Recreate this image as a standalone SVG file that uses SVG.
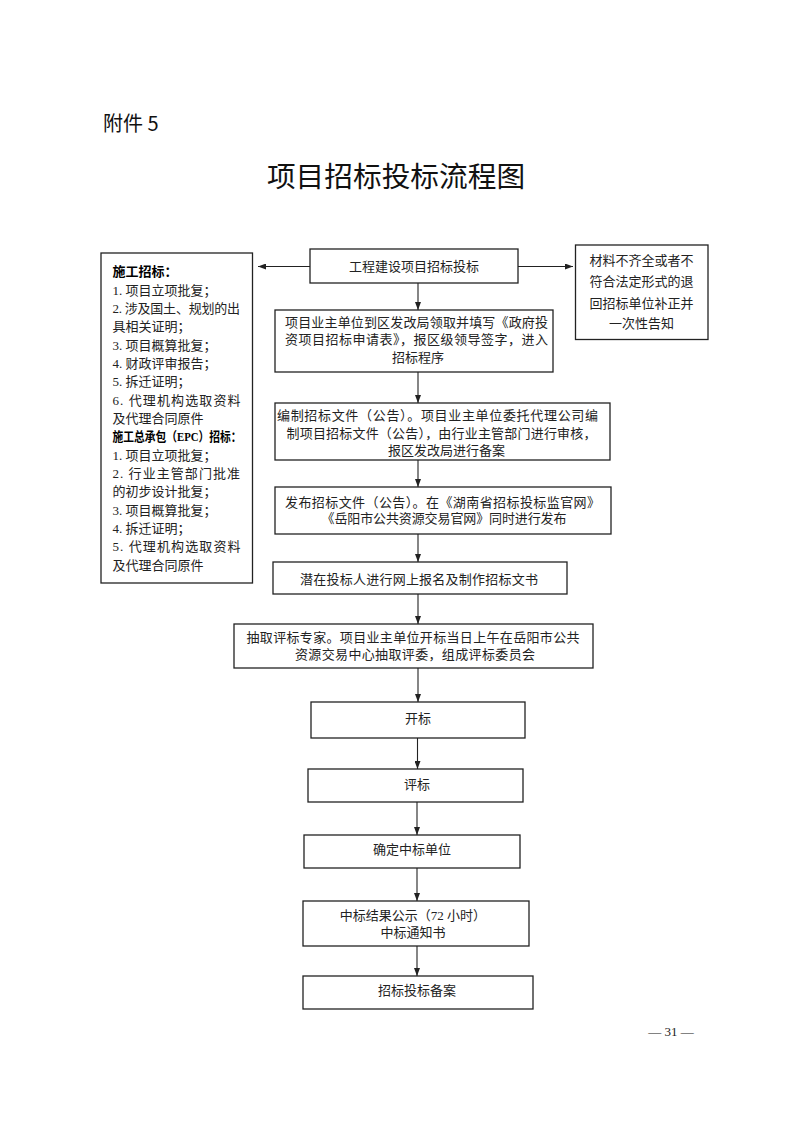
<svg xmlns="http://www.w3.org/2000/svg" width="793" height="1122" viewBox="0 0 793 1122">
<style>
.box{fill:#fff;stroke:#222;stroke-width:1.3}
.t{font-family:"Liberation Serif","Noto Sans CJK SC",serif;font-size:13px;fill:#222;dominant-baseline:central}
.c{text-anchor:middle}
.b{font-weight:bold;fill:#000}
.h{font-family:"Noto Sans CJK SC","Liberation Sans",sans-serif;fill:#111;dominant-baseline:central}
.ln{fill:none;stroke:#222;stroke-width:1.1;marker-end:url(#ah)}
</style>
<defs>
<marker id="ah" markerUnits="userSpaceOnUse" markerWidth="8" markerHeight="6" refX="8" refY="3" orient="auto">
<path d="M0,0 L8,3 L0,6 z" fill="#222"/>
</marker>
</defs>
<rect width="793" height="1122" fill="#fff"/>

<g id="header">
<text class="h" x="103" y="122" font-size="20">附件 5</text>
<text class="h" x="396" y="174.5" font-size="28.7" text-anchor="middle">项目招标投标流程图</text>
</g>

<g id="connectors">
<path class="ln" d="M310,266.5 H258"/>
<path class="ln" d="M518,266.5 H573"/>
<path class="ln" d="M418,283 V310"/>
<path class="ln" d="M418,372 V403"/>
<path class="ln" d="M418,460 V487"/>
<path class="ln" d="M418,534 V562"/>
<path class="ln" d="M418,594 V624"/>
<path class="ln" d="M418,668 V702"/>
<path class="ln" d="M417.5,738 V769"/>
<path class="ln" d="M417,802 V835"/>
<path class="ln" d="M417,868 V901"/>
<path class="ln" d="M417,946 V976"/>
</g>

<g id="n-requirements">
<rect class="box" x="101" y="253" width="151.5" height="330"/>
<text class="t b" x="112.5" y="271.7">施工招标：</text>
<text class="t" x="112.5" y="290">1. 项目立项批复；</text>
<text class="t" x="112.5" y="308.3" textLength="127.5" lengthAdjust="spacing">2. 涉及国土、规划的出</text>
<text class="t" x="112.5" y="326.7">具相关证明；</text>
<text class="t" x="112.5" y="345">3. 项目概算批复；</text>
<text class="t" x="112.5" y="363.3">4. 财政评审报告；</text>
<text class="t" x="112.5" y="381.7">5. 拆迁证明；</text>
<text class="t" x="112.5" y="400" textLength="128" lengthAdjust="spacing">6. 代理机构选取资料</text>
<text class="t" x="112.5" y="418.3">及代理合同原件</text>
<text class="t b" x="112.5" y="436.7" textLength="129" lengthAdjust="spacingAndGlyphs">施工总承包（EPC）招标：</text>
<text class="t" x="112.5" y="455">1. 项目立项批复；</text>
<text class="t" x="112.5" y="473.3" textLength="127.5" lengthAdjust="spacing">2. 行业主管部门批准</text>
<text class="t" x="112.5" y="491.7">的初步设计批复；</text>
<text class="t" x="112.5" y="510">3. 项目概算批复；</text>
<text class="t" x="112.5" y="528.3">4. 拆迁证明；</text>
<text class="t" x="112.5" y="546.7" textLength="128" lengthAdjust="spacing">5. 代理机构选取资料</text>
<text class="t" x="112.5" y="565">及代理合同原件</text>
</g>

<g id="n-start">
<rect class="box" x="310" y="249" width="208" height="34"/>
<text class="t c" x="414" y="266.5">工程建设项目招标投标</text>
</g>

<g id="n-return">
<rect class="box" x="575.5" y="245" width="132.5" height="94.5"/>
<text class="t c" x="641.5" y="260">材料不齐全或者不</text>
<text class="t c" x="641.5" y="281.7">符合法定形式的退</text>
<text class="t c" x="641.5" y="303">回招标单位补正并</text>
<text class="t c" x="641.5" y="323.3">一次性告知</text>
</g>

<g id="n-apply">
<rect class="box" x="275" y="310" width="278" height="62"/>
<text class="t" x="285" y="322" textLength="263" lengthAdjust="spacing">项目业主单位到区发改局领取并填写《政府投</text>
<text class="t" x="285" y="339.5" textLength="263" lengthAdjust="spacing">资项目招标申请表》，报区级领导签字，进入</text>
<text class="t c" x="418" y="357">招标程序</text>
</g>

<g id="n-compile">
<rect class="box" x="275" y="403" width="335" height="57"/>
<text class="t" x="277" y="415.5" textLength="321" lengthAdjust="spacing">编制招标文件（公告）。项目业主单位委托代理公司编</text>
<text class="t" x="286.5" y="433" textLength="310" lengthAdjust="spacing">制项目招标文件（公告），由行业主管部门进行审核，</text>
<text class="t c" x="446.5" y="450">报区发改局进行备案</text>
</g>

<g id="n-publish">
<rect class="box" x="275" y="487" width="336" height="47"/>
<text class="t" x="285" y="502" textLength="315" lengthAdjust="spacing">发布招标文件（公告）。在《湖南省招标投标监官网》</text>
<text class="t" x="321.5" y="518.5" textLength="245" lengthAdjust="spacing">《岳阳市公共资源交易官网》同时进行发布</text>
</g>

<g id="n-register">
<rect class="box" x="273" y="562" width="294" height="32"/>
<text class="t" x="300" y="579" textLength="238" lengthAdjust="spacing">潜在投标人进行网上报名及制作招标文书</text>
</g>

<g id="n-experts">
<rect class="box" x="234" y="624" width="359" height="44"/>
<text class="t" x="246.5" y="637" textLength="333" lengthAdjust="spacing">抽取评标专家。项目业主单位开标当日上午在岳阳市公共</text>
<text class="t" x="295" y="654.5" textLength="240" lengthAdjust="spacing">资源交易中心抽取评委，组成评标委员会</text>
</g>

<g id="n-open">
<rect class="box" x="311" y="702" width="214" height="36"/>
<text class="t c" x="418" y="718.5">开标</text>
</g>

<g id="n-evaluate">
<rect class="box" x="308" y="769" width="215" height="33"/>
<text class="t c" x="417" y="784">评标</text>
</g>

<g id="n-winner">
<rect class="box" x="304" y="835" width="216" height="33"/>
<text class="t c" x="412" y="849">确定中标单位</text>
</g>

<g id="n-notice">
<rect class="box" x="303" y="901" width="226" height="45"/>
<text class="t c" x="413" y="915.5">中标结果公示（72 小时）</text>
<text class="t c" x="413" y="932">中标通知书</text>
</g>

<g id="n-record">
<rect class="box" x="303" y="976" width="230" height="33"/>
<text class="t c" x="417" y="990.5">招标投标备案</text>
</g>

<g id="footer">
<text class="t c" x="671" y="1031" font-size="13">— 31 —</text>
</g>
</svg>
